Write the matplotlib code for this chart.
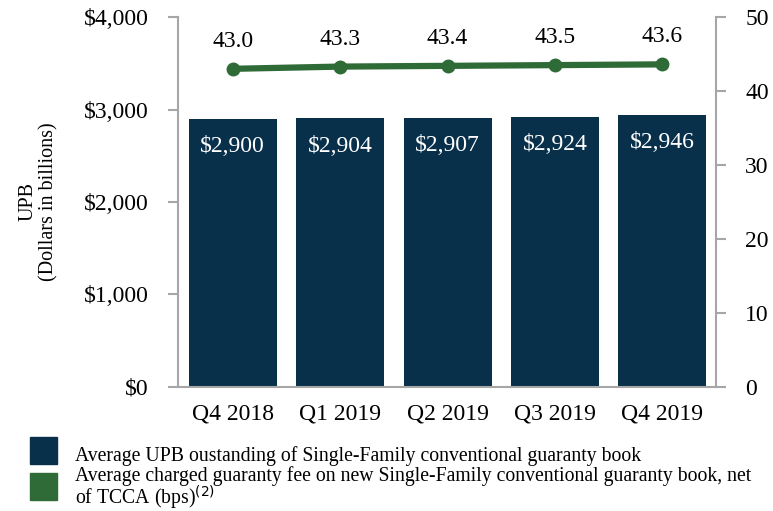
import matplotlib.pyplot as plt
from matplotlib.patches import Rectangle

plt.rcParams['font.family'] = ['Liberation Serif', 'DejaVu Serif']

# Quarterly data
quarters = ['Q4 2018', 'Q1 2019', 'Q2 2019', 'Q3 2019', 'Q4 2019']
upb = [2900, 2904, 2907, 2924, 2946]          # dollars in billions
upb_labels = ['$2,900', '$2,904', '$2,907', '$2,924', '$2,946']
gfee = [43.0, 43.3, 43.4, 43.5, 43.6]         # bps

left_ticks = [0, 1000, 2000, 3000, 4000]
left_ticklabels = ['$0', '$1,000', '$2,000', '$3,000', '$4,000']
right_ticks = [0, 10, 20, 30, 40, 50]

navy = '#08304b'
green = '#2e6b36'
grey = '#a6a6a6'

fig = plt.figure(figsize=(7.73, 5.11), dpi=100)
ax = fig.add_axes([0.2303, 0.2427, 0.696, 0.724])
ax2 = ax.twinx()

x = range(len(quarters))
ax.bar(x, upb, width=0.82, color=navy, zorder=2)
for i, v in enumerate(upb):
    ax.text(i, v - 300, upb_labels[i], ha='center', va='center',
            color='white', fontsize=17)

ax2.plot(x, gfee, color=green, lw=4.5, marker='o', ms=9, zorder=3)
for i, v in enumerate(gfee):
    ax2.text(i, v + 3.7, f'{v:.1f}', ha='center', va='center', fontsize=17)

ax.set_xlim(-0.51, 4.5)
ax.set_ylim(0, 4000)
ax2.set_ylim(0, 50)
ax.set_yticks(left_ticks)
ax.set_yticklabels(left_ticklabels)
ax2.set_yticks(right_ticks)
ax.set_xticks(list(x))
ax.set_xticklabels(quarters)

for a in (ax, ax2):
    for s in a.spines.values():
        s.set_visible(False)
for a, side in ((ax, 'left'), (ax, 'bottom'), (ax2, 'right')):
    a.spines[side].set_visible(True)
    a.spines[side].set_color(grey)
    a.spines[side].set_linewidth(1.5)

ax.tick_params(axis='y', colors=grey, labelcolor='black', labelsize=17,
               length=7, width=1.5, pad=14)
ax2.tick_params(axis='y', colors=grey, labelcolor='black', labelsize=17,
                length=7, width=1.5, pad=14)
ax.tick_params(axis='x', length=0, labelsize=17, pad=12)

ax.set_ylabel('UPB\n(Dollars in billions)', fontsize=14.5, linespacing=1.15)
ax.yaxis.set_label_coords(-0.222, 0.5)

# Legend drawn by hand
fig.patches.append(Rectangle((30 / 773, 1 - 464 / 511), 27 / 773, 27 / 511,
                             transform=fig.transFigure, color=navy))
fig.patches.append(Rectangle((30 / 773, 1 - 500 / 511), 27 / 773, 27 / 511,
                             transform=fig.transFigure, color=green))
fig.text(75 / 773, 1 - 456 / 511,
         'Average UPB oustanding of Single-Family conventional guaranty book',
         fontsize=14.2, va='center')
fig.text(75 / 773, 1 - 489 / 511,
         'Average charged guaranty fee on new Single-Family conventional guaranty book, net\n'
         'of TCCA (bps)$^{(2)}$',
         fontsize=14.2, va='center', linespacing=0.9)

fig.savefig('out.png', dpi=100)
